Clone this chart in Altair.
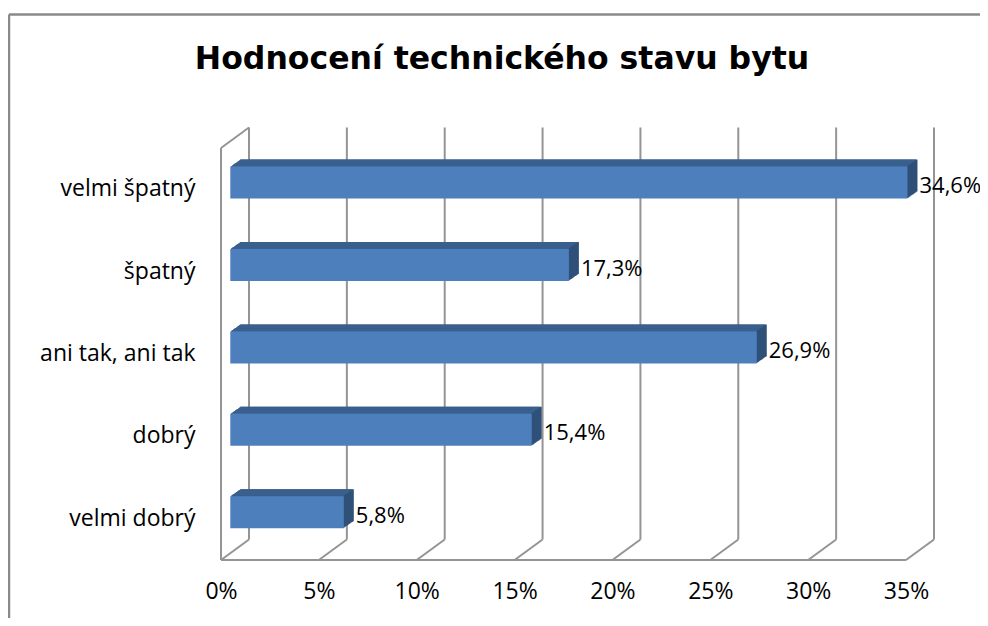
import altair as alt
import pandas as pd

title_text = "Hodnocení technického stavu bytu"
categories = ["velmi špatný", "špatný", "ani tak, ani tak", "dobrý", "velmi dobrý"]
values = [34.6, 17.3, 26.9, 15.4, 5.8]
tick_values = [0, 5, 10, 15, 20, 25, 30, 35]

df = pd.DataFrame({"cat": categories, "value": values, "start": [0] * len(values)})
df["label"] = [f"{v:.1f}".replace(".", ",") + "%" for v in values]
ticks = pd.DataFrame({"t": tick_values})
one = pd.DataFrame({"title": [title_text]})

W, H = 685, 412
DX, DY = 28, -20.5          # depth of the 3D box
BX, BY = 9.3, -6.6          # bar front-face depth
EX, EY = 1.0, -0.7          # extrusion step per layer
FONT = "Open Sans"
FRONT, TOP, SIDE = "#4C7FBC", "#3C6494", "#2F5077"
GRID = "#949494"

xscale = alt.Scale(domain=[0, 35], nice=False, zero=True)
yscale = alt.Scale(domain=categories, paddingInner=0, paddingOuter=0)

xaxis = alt.Axis(values=tick_values, labelExpr="datum.value + '%'", grid=False,
                 domain=False, ticks=False, labelPadding=20, labelFont=FONT,
                 labelFontSize=23, labelColor="#000000", title=None, labelFlush=False)
yaxis = alt.Axis(domain=False, ticks=False, labelPadding=26, labelFont=FONT,
                 labelFontSize=23, labelColor="#000000", title=None, labelLimit=300,
                 grid=False)

layers = []

# outer frame
frame = alt.Chart(one)
layers.append(frame.mark_rule(color="#8a8a8a", strokeWidth=2.5).encode(
    x=alt.value(-212), y=alt.value(-133.5), y2=alt.value(H + 80)))
layers.append(frame.mark_rule(color="#8a8a8a", strokeWidth=2.5).encode(
    x=alt.value(-212), x2=alt.value(W + 90), y=alt.value(-133.5)))

tk = alt.Chart(ticks)
# back wall gridlines
layers.append(tk.mark_rule(color=GRID, strokeWidth=2, xOffset=DX).encode(
    x=alt.X("t:Q", scale=xscale, axis=xaxis), y=alt.value(DY), y2=alt.value(H + DY)))
# floor diagonals
layers.append(tk.mark_rule(color=GRID, strokeWidth=2, xOffset=0, x2Offset=DX).encode(
    x=alt.X("t:Q", scale=xscale, axis=xaxis), x2="t:Q", y=alt.value(H), y2=alt.value(H + DY)))
# front floor edge
layers.append(tk.mark_rule(color=GRID, strokeWidth=2).encode(
    x=alt.X("min(t):Q", scale=xscale, axis=xaxis), x2="max(t):Q", y=alt.value(H)))
# left wall front edge
layers.append(tk.mark_rule(color=GRID, strokeWidth=2).encode(
    x=alt.X("min(t):Q", scale=xscale, axis=xaxis), y=alt.value(0), y2=alt.value(H)))
# left wall top diagonal
layers.append(tk.mark_rule(color=GRID, strokeWidth=2, xOffset=0, x2Offset=DX).encode(
    x=alt.X("min(t):Q", scale=xscale, axis=xaxis), x2="min(t):Q", y=alt.value(0), y2=alt.value(DY)))

base = alt.Chart(df)
enc = dict(x=alt.X("start:Q", scale=xscale, axis=xaxis), x2="value:Q",
           y=alt.Y("cat:N", scale=yscale, sort=categories, axis=yaxis))

for k in range(10, 0, -1):
    dx = BX + k * EX
    dy = BY + k * EY
    layers.append(base.mark_bar(color=SIDE, size=32, xOffset=dx, x2Offset=dx,
                                yOffset=dy, y2Offset=dy).encode(**enc))
    layers.append(base.mark_bar(color=TOP, size=32, xOffset=dx, x2Offset=dx - 1.5,
                                yOffset=dy, y2Offset=dy).encode(**enc))

layers.append(base.mark_bar(color=FRONT, size=32, xOffset=BX, x2Offset=BX,
                            yOffset=BY, y2Offset=BY).encode(**enc))

# value labels
layers.append(base.mark_text(align="left", baseline="middle", font=FONT, fontSize=22,
                             color="#000000", xOffset=BX + 12, yOffset=-3).encode(
    x=alt.X("value:Q", scale=xscale, axis=xaxis),
    y=alt.Y("cat:N", scale=yscale, sort=categories, axis=yaxis),
    text="label:N"))

# title
layers.append(alt.Chart(one).mark_text(font="DejaVu Sans", fontSize=31.5, fontWeight="bold",
                                       align="center", baseline="alphabetic",
                                       color="#000000").encode(
    x=alt.value(281), y=alt.value(-79), text="title:N"))

chart = alt.layer(*layers).properties(
    width=W, height=H,
    padding={"left": 213, "top": 140, "right": 74, "bottom": 58},
    autosize=alt.AutoSizeParams(type="none"),
    background="white",
).configure_view(stroke=None)

chart.save("out.html", embed_options={"renderer": "svg", "actions": False})
